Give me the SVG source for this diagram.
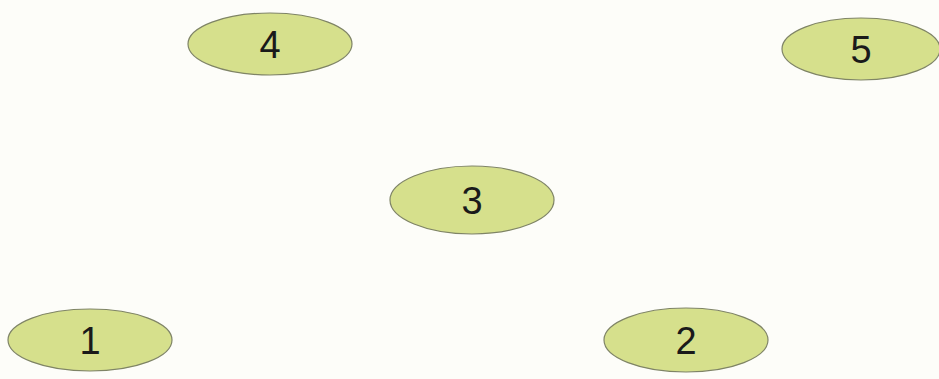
<svg xmlns="http://www.w3.org/2000/svg" width="939" height="379" viewBox="0 0 939 379">
<style>
.n ellipse{fill:#d6e08c;stroke:#7f8466;stroke-width:1.2}
.n text{font-family:"Liberation Sans",Arial,sans-serif;font-size:38px;fill:#1a1a1a;text-anchor:middle}
</style>
<rect width="939" height="379" fill="#fdfdf9"/>
<g id="connectors"/>
<g id="n4" class="n"><ellipse cx="270" cy="44" rx="82" ry="31"/><text x="270" y="58">4</text></g>
<g id="n5" class="n"><ellipse cx="861" cy="49" rx="79" ry="31"/><text x="861" y="63">5</text></g>
<g id="n3" class="n"><ellipse cx="472" cy="200" rx="82" ry="34"/><text x="472" y="214">3</text></g>
<g id="n1" class="n"><ellipse cx="90" cy="340" rx="82" ry="31"/><text x="90" y="354">1</text></g>
<g id="n2" class="n"><ellipse cx="686" cy="340" rx="82" ry="32"/><text x="686" y="354">2</text></g>
</svg>
